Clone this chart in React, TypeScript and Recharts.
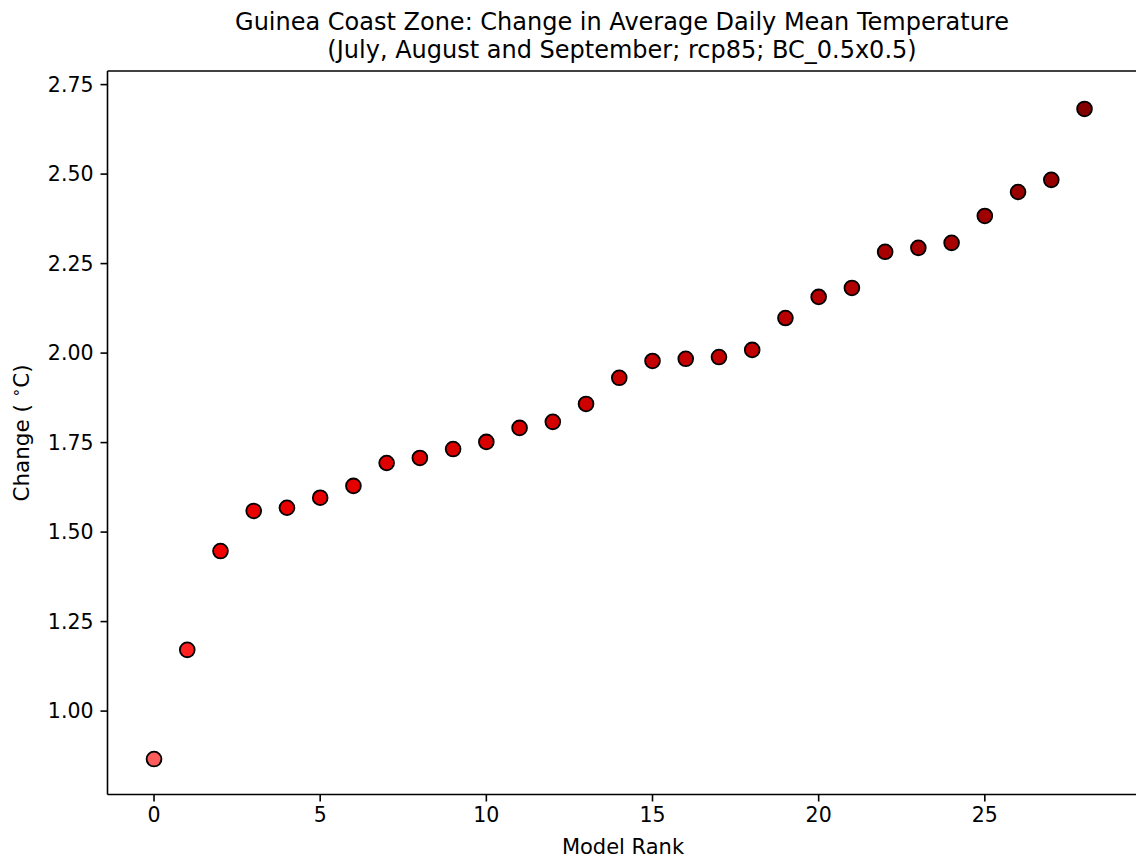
import React from "react";
import {
  ScatterChart,
  Scatter,
  XAxis,
  YAxis,
  ReferenceLine,
  Customized,
} from "recharts";

const ranks = [0, 1, 2, 3, 4, 5, 6, 7, 8, 9, 10, 11, 12, 13, 14, 15, 16, 17, 18, 19, 20, 21, 22, 23, 24, 25, 26, 27, 28];
const changes = [
  0.866, 1.171, 1.447, 1.559, 1.568, 1.596, 1.629, 1.693, 1.707, 1.732,
  1.752, 1.791, 1.808, 1.858, 1.931, 1.978, 1.984, 1.989, 2.009, 2.098,
  2.157, 2.182, 2.283, 2.294, 2.308, 2.383, 2.450, 2.484, 2.682,
];
const xTicks = [0, 5, 10, 15, 20, 25];
const yTicks = [1.0, 1.25, 1.5, 1.75, 2.0, 2.25, 2.5, 2.75];
const titleLines = [
  "Guinea Coast Zone: Change in Average Daily Mean Temperature",
  "(July, August and September; rcp85; BC_0.5x0.5)",
];
const xLabel = "Model Rank";

const FONT = "'DejaVu Sans', sans-serif";
const Y_DOMAIN: [number, number] = [0.767, 2.788];
const X_DOMAIN: [number, number] = [-1.4, 29.85];

// colour ramp (light red -> red -> dark red) by value
const colorStops: [number, number, number, number][] = [
  [0.87, 255, 92, 92],
  [1.17, 255, 32, 32],
  [1.45, 245, 0, 0],
  [2.7, 130, 0, 0],
];
function colorFor(v: number): string {
  if (v <= colorStops[0][0]) {
    const s = colorStops[0];
    return `rgb(${s[1]},${s[2]},${s[3]})`;
  }
  for (let i = 0; i < colorStops.length - 1; i++) {
    const a = colorStops[i];
    const b = colorStops[i + 1];
    if (v <= b[0]) {
      const t = (v - a[0]) / (b[0] - a[0]);
      const r = Math.round(a[1] + (b[1] - a[1]) * t);
      const g = Math.round(a[2] + (b[2] - a[2]) * t);
      const bl = Math.round(a[3] + (b[3] - a[3]) * t);
      return `rgb(${r},${g},${bl})`;
    }
  }
  const s = colorStops[colorStops.length - 1];
  return `rgb(${s[1]},${s[2]},${s[3]})`;
}

const data = ranks.map((r, i) => ({ rank: r, change: changes[i] }));

const Dot = (props: any) => {
  const { cx, cy, payload } = props;
  if (cx == null || cy == null) return null;
  return (
    <circle
      cx={cx}
      cy={cy}
      r={7.4}
      fill={colorFor(payload.change)}
      stroke="#000"
      strokeWidth={1.8}
    />
  );
};

const Texts = () => (
  <g fontFamily={FONT} fill="#000">
    <text x={622} y={30} fontSize={24} textAnchor="middle">
      {titleLines[0]}
    </text>
    <text x={622} y={58} fontSize={24} textAnchor="middle">
      {titleLines[1]}
    </text>
    <text x={623} y={854} fontSize={21} textAnchor="middle">
      {xLabel}
    </text>
    <text
      x={0}
      y={0}
      fontSize={21.5}
      textAnchor="middle"
      transform="translate(29,433) rotate(-90)"
    >
      <tspan>{"Change ( "}</tspan>
      <tspan fontSize={15} dy={-8}>{"\u2218"}</tspan>
      <tspan dy={8}>C)</tspan>
    </text>
  </g>
);

export default function App() {
  return (
    <div
      style={{
        position: "absolute",
        left: 0,
        top: 0,
        width: 1136,
        height: 859,
        overflow: "hidden",
        background: "#fff",
      }}
    >
      <ScatterChart
        width={1150}
        height={859}
        margin={{ top: 71, right: 4, left: 0, bottom: 0 }}
      >
        <XAxis
          type="number"
          dataKey="rank"
          domain={X_DOMAIN}
          ticks={xTicks}
          allowDataOverflow
          height={64.5}
          tickSize={7}
          tickMargin={6}
          axisLine={{ stroke: "#000", strokeWidth: 1.6 }}
          tickLine={{ stroke: "#000", strokeWidth: 1.6 }}
          tick={{ fill: "#000", fontSize: 20.5, fontFamily: FONT }}
          interval={0}
        />
        <YAxis
          type="number"
          dataKey="change"
          domain={Y_DOMAIN}
          ticks={yTicks}
          allowDataOverflow
          width={107.5}
          tickSize={7}
          tickMargin={7}
          tickFormatter={(v: number) => v.toFixed(2)}
          axisLine={{ stroke: "#000", strokeWidth: 1.6 }}
          tickLine={{ stroke: "#000", strokeWidth: 1.6 }}
          tick={{ fill: "#000", fontSize: 20.5, fontFamily: FONT }}
          interval={0}
        />
        <ReferenceLine y={Y_DOMAIN[1]} stroke="#000" strokeWidth={1.6} ifOverflow="visible" />
        <Scatter data={data} shape={<Dot />} isAnimationActive={false} />
        <Customized component={Texts} />
      </ScatterChart>
    </div>
  );
}
